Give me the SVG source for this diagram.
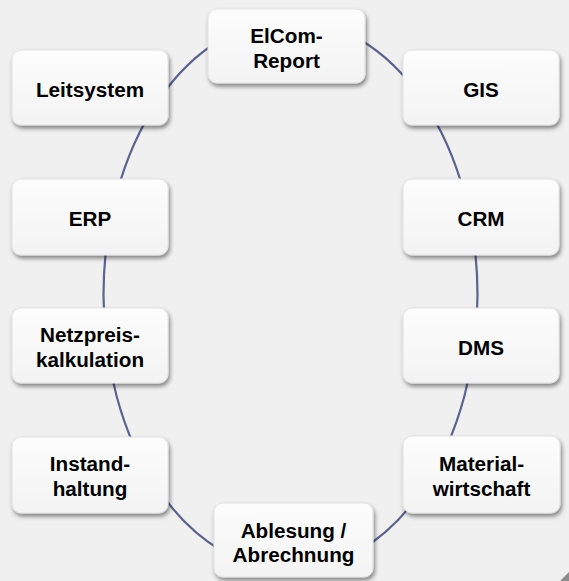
<svg xmlns="http://www.w3.org/2000/svg" width="569" height="581" viewBox="0 0 569 581">
<defs>
<linearGradient id="boxfill" x1="0" y1="0" x2="0" y2="1">
<stop offset="0" stop-color="#fdfdfd"/>
<stop offset="1" stop-color="#f3f3f3"/>
</linearGradient>
<filter id="shadow" x="-10%" y="-10%" width="125%" height="135%">
<feDropShadow dx="1.5" dy="3" stdDeviation="2" flood-color="#000" flood-opacity="0.45"/>
</filter>
</defs>
<style>
.box{fill:url(#boxfill);stroke:#e2e2e2;stroke-width:1;filter:url(#shadow)}
.lbl{font-family:"Liberation Sans",Arial,sans-serif;font-weight:bold;font-size:20.7px;fill:#000;text-anchor:middle}
.ring{fill:none;stroke:#5b6390;stroke-width:2.2}
</style>
<rect x="0" y="0" width="569" height="581" fill="#f0f0f0"/>
<polygon points="569,572 569,581 560,581" fill="#8c8c8c"/>
<g id="connectors">
<ellipse class="ring" cx="290.5" cy="295" rx="187" ry="275"/>
</g>
<g id="elcom">
<rect class="box" x="208" y="9" width="157" height="74" rx="9"/>
<text class="lbl" x="286.5" y="43">ElCom-</text>
<text class="lbl" x="286.5" y="68">Report</text>
</g>
<g id="leitsystem">
<rect class="box" x="12" y="50" width="156" height="75" rx="9"/>
<text class="lbl" x="90" y="96.5">Leitsystem</text>
</g>
<g id="gis">
<rect class="box" x="403" y="50" width="156" height="75" rx="9"/>
<text class="lbl" x="481" y="96.5">GIS</text>
</g>
<g id="erp">
<rect class="box" x="12" y="179" width="156" height="76" rx="9"/>
<text class="lbl" x="90" y="225.5">ERP</text>
</g>
<g id="crm">
<rect class="box" x="403" y="179" width="156" height="76" rx="9"/>
<text class="lbl" x="481" y="225.5">CRM</text>
</g>
<g id="netzpreis">
<rect class="box" x="12" y="308" width="156" height="75" rx="9"/>
<text class="lbl" x="90" y="341.5">Netzpreis-</text>
<text class="lbl" x="90" y="366.5">kalkulation</text>
</g>
<g id="dms">
<rect class="box" x="403" y="308" width="156" height="75" rx="9"/>
<text class="lbl" x="481" y="354.5">DMS</text>
</g>
<g id="instandhaltung">
<rect class="box" x="12" y="437" width="156" height="76" rx="9"/>
<text class="lbl" x="90" y="470.5">Instand-</text>
<text class="lbl" x="90" y="495.5">haltung</text>
</g>
<g id="materialwirtschaft">
<rect class="box" x="403" y="436" width="157" height="77" rx="9"/>
<text class="lbl" x="481.5" y="470.5">Material-</text>
<text class="lbl" x="481.5" y="495.5">wirtschaft</text>
</g>
<g id="ablesung">
<rect class="box" x="214" y="503" width="159" height="74" rx="9"/>
<text class="lbl" x="293.5" y="537.5">Ablesung /</text>
<text class="lbl" x="293.5" y="561.5">Abrechnung</text>
</g>
</svg>
